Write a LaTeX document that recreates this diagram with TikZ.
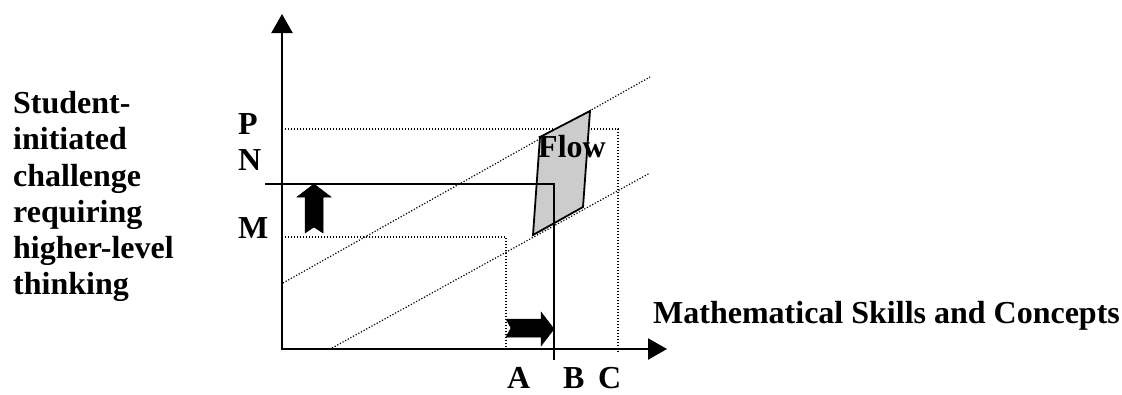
\documentclass[tikz,border=0pt]{standalone}
\usepackage{fontspec}
\setmainfont{Liberation Serif}
\usetikzlibrary{arrows.meta}
\definecolor{flowgray}{RGB}{204,204,204}
\begin{document}
\begin{tikzpicture}[x=1pt,y=-1pt,
  lbl/.style={font=\bfseries\fontsize{32}{36.3}\selectfont, inner sep=0pt},
  axis/.style={line width=2.2pt, {Triangle[length=19pt,width=21pt]}-{Triangle[length=19pt,width=21pt]}},
  dots/.style={line width=1.2pt, dash pattern=on 1.2pt off 1.8pt},
  solidline/.style={line width=1.8pt},
  blockarrow/.style={fill=black, draw=black, line width=0.5pt, line join=miter}]
\useasboundingbox (0,0) rectangle (1122,394);

% coordinates
\coordinate (O) at (282,349);
\coordinate (Ytip) at (282,14);
\coordinate (Xtip) at (667,349);
\coordinate (Nstart) at (265,184);
\coordinate (Ncorner) at (554,184);
\coordinate (Bend) at (554,360);
\coordinate (Pstart) at (282,129);
\coordinate (Pcorner) at (618,129);
\coordinate (Cend) at (618,353);
\coordinate (Mstart) at (282,237);
\coordinate (Mcorner) at (506,237);
\coordinate (Aend) at (506,349);
\coordinate (D1a) at (283,283);
\coordinate (D1b) at (650,77);
\coordinate (D2a) at (332,348);
\coordinate (D2b) at (650,173);

% dotted guides
\draw[dots] (Pstart) -- (Pcorner) -- (Cend);
\draw[dots] (Mstart) -- (Mcorner) -- (Aend);
\draw[dots] (D1a) -- (D1b);
\draw[dots] (D2a) -- (D2b);

% flow region
\draw[solidline, fill=flowgray, line join=miter] (540,137) -- (590,111) -- (583,207) -- (533,235) -- cycle;
\node[lbl, anchor=base west] (flow) at (538,157) {Flow};

% solid N / B line
\draw[solidline] (Nstart) -- (Ncorner) -- (Bend);

% axes
\draw[axis] (Ytip) -- (O) -- (Xtip);

% block arrows
\draw[blockarrow] (314,184) -- (331,197) -- (323,197) -- (323,233) -- (314,227) -- (305,233) -- (305,197) -- (297,197) -- cycle;
\draw[blockarrow] (554,329) -- (541,346) -- (541,337) -- (506,337) -- (511,328) -- (506,319) -- (541,319) -- (541,312) -- cycle;

% labels
\node[lbl, anchor=base west] (P) at (238,134) {P};
\node[lbl, anchor=base west] (N) at (238,170) {N};
\node[lbl, anchor=base west] (M) at (238,238) {M};
\node[lbl, anchor=base west] (A) at (507,388) {A};
\node[lbl, anchor=base west] (B) at (563,388) {B};
\node[lbl, anchor=base west] (C) at (598,388) {C};
\node[lbl, anchor=base west] (xlabel) at (653,323) {Mathematical Skills and Concepts};
\node[lbl, anchor=north west, align=left] (ylabel) at (13,91) {Student-\\initiated\\challenge\\requiring\\higher-level\\thinking};
\end{tikzpicture}
\end{document}
